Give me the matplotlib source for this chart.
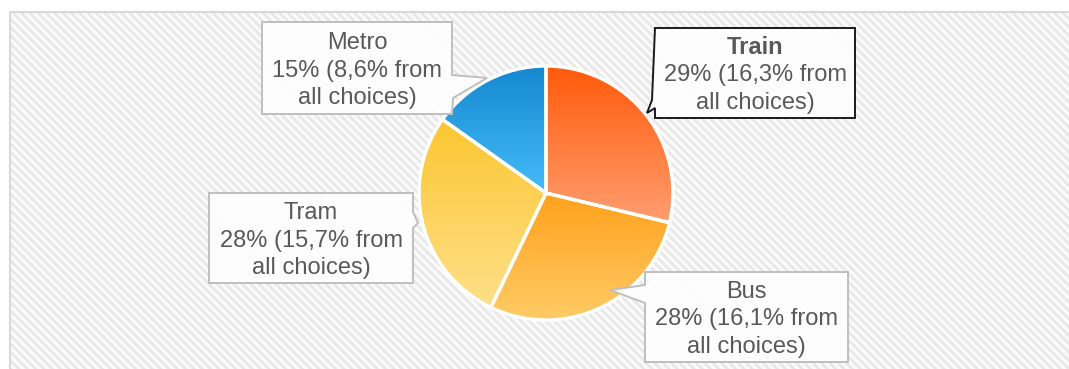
import numpy as np
import matplotlib
matplotlib.use("Agg")
import matplotlib.pyplot as plt
from matplotlib.colors import to_rgba
import matplotlib.patches as patches

# data
modes = ["Train", "Bus", "Tram", "Metro"]
share_all = [16.3, 16.1, 15.7, 8.6]          # % from all choices
share_pct = [29, 28, 28, 15]                  # % shown in labels
top_colors = ["#FF5A0A", "#FFA11C", "#FBC630", "#1588CF"]
bottom_colors = ["#FF9E70", "#FFCB66", "#FEE08A", "#46BCFA"]

W, H = 1069, 369
plt.rcParams['hatch.linewidth'] = 2.0
plt.rcParams['font.family'] = ['Liberation Sans', 'DejaVu Sans']

fig = plt.figure(figsize=(W / 100, H / 100), dpi=100)
ax = fig.add_axes([0, 0, 1, 1])


def Y(y):
    # pixel row (from top) -> data y
    return H - y


# hatched plot area
ax.add_patch(patches.Rectangle((10, 0), W - 10, Y(12), facecolor="#fafafa",
                               edgecolor="none", zorder=0))
ax.add_patch(patches.Rectangle((10, 0), W - 10, Y(12), facecolor="none",
                               edgecolor="#e8e8e8", linewidth=0, hatch="\\\\\\\\", zorder=0.5))
ax.plot([10, 10, W + 5], [-5, Y(12), Y(12)], color="#d9d9d9", lw=1.5, zorder=0.6)

# pie
cx, cy, r = 546, Y(193), 127
wedges, _ = ax.pie(share_all, startangle=90, counterclock=False, center=(cx, cy),
                   radius=r, wedgeprops=dict(facecolor="none", edgecolor="white", linewidth=2.4))
for w, c0, c1 in zip(wedges, top_colors, bottom_colors):
    w.set_zorder(3)
    ext = w.get_path().get_extents()
    t = np.linspace(0, 1, 200)[:, None]
    grad = (1 - t) * np.array(to_rgba(c0)) + t * np.array(to_rgba(c1))
    im = ax.imshow(grad[:, None, :], extent=(ext.x0, ext.x1, ext.y0, ext.y1),
                   origin="upper", aspect="auto", interpolation="bilinear", zorder=2)
    im.set_clip_path(w)

# callout boxes: (left, top, right, bottom) + pointer points, in pixel coords
boxes = {
    "Metro": dict(box=(262, 22, 452, 114), side="right",
                  ptr=[(452, 75), (487, 78), (453, 98)], edge="#bfbfbf"),
    "Train": dict(box=(655, 28, 855, 118), side="left",
                  ptr=[(655, 108), (647, 113), (652, 100)], edge="#1a1a1a"),
    "Tram": dict(box=(209, 193, 413, 283), side="right",
                 ptr=[(413, 212), (418, 223), (413, 228)], edge="#bfbfbf"),
    "Bus": dict(box=(645, 272, 848, 362), side="left",
                ptr=[(645, 303), (610, 290), (645, 285)], edge="#bfbfbf"),
}

for name, pct, allp in zip(modes, share_pct, share_all):
    b = boxes[name]
    x0, y0, x1, y1 = b["box"]
    if b["side"] == "right":
        pts = [(x0, y0), (x1, y0)] + b["ptr"] + [(x1, y1), (x0, y1)]
    else:
        pts = [(x0, y0), (x1, y0), (x1, y1), (x0, y1)] + b["ptr"]
    poly = patches.Polygon([(px, Y(py)) for px, py in pts], closed=True,
                           facecolor=(1, 1, 1, 0.85), edgecolor=b["edge"],
                           linewidth=1.4, zorder=4)
    ax.add_patch(poly)
    xc = (x0 + x1) / 2
    yc = (y0 + y1) / 2 + 2.5
    lines = [name, "%d%% (%s%% from" % (pct, str(allp).replace(".", ",")), "all choices)"]
    for i, line in enumerate(lines):
        ax.text(xc, Y(yc + (i - 1) * 27.5), line, ha="center", va="center",
                fontsize=17, color="#595959", zorder=5,
                fontweight="bold" if (name == "Train" and i == 0) else "normal")

ax.set_xlim(0, W)
ax.set_ylim(0, H)
ax.set_aspect("auto")
ax.axis("off")

fig.savefig("out.png", dpi=100, facecolor="white")
